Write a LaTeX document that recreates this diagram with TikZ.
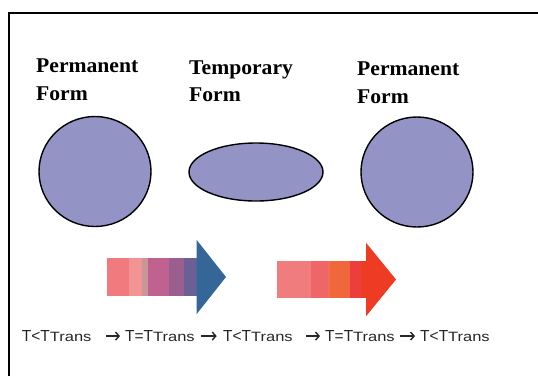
\documentclass[tikz,border=0pt]{standalone}
\usepackage{fontspec}
\setmainfont{Liberation Serif}
\newfontfamily\sansf{Liberation Sans}
\usetikzlibrary{arrows.meta}
\newcommand{\wx}[1]{\scalebox{1.03}[1]{#1}}
\newcommand{\stt}[1]{\scalebox{0.97}[1]{\fontsize{16}{18}\selectfont T#1T}\scalebox{1.22}[1]{\fontsize{13.5}{15}\selectfont Trans}}
\definecolor{formfill}{HTML}{9393C5}
\tikzset{
  ttl/.style={anchor=base west, inner sep=0pt, font=\fontsize{21}{26}\selectfont\bfseries},
  form/.style={draw=black, line width=1.4pt, fill=formfill},
  state/.style={anchor=base west, inner sep=0pt, font=\sansf, text=black!85},
  tarrow/.style={draw=black!85, line width=1.4pt, -{Straight Barb[length=3.5pt,width=8pt]}},
  frame/.style={line width=2pt}
}
\begin{document}
\begin{tikzpicture}[x=1pt,y=-1pt]
\useasboundingbox (0,0) rectangle (538,376);
% frame
\draw[frame] (8.5,376) -- (8.5,13) -- (539,13);
% titles
\node[ttl] (t1a) at (36,72.5) {\wx{Permanent}};
\node[ttl] (t1b) at (36,100) {\wx{Form}};
\node[ttl] (t2a) at (189,74) {\wx{Temporary}};
\node[ttl] (t2b) at (189,101.5) {\wx{Form}};
\node[ttl] (t3a) at (357,75.5) {\wx{Permanent}};
\node[ttl] (t3b) at (357,103) {\wx{Form}};
% forms
\draw[form] (95,171.5) ellipse [x radius=56, y radius=55];
\draw[form] (256,172) ellipse [x radius=67, y radius=29];
\draw[form] (417,172) ellipse [x radius=56, y radius=55];
% left block arrow
\fill[fill={rgb,255:red,240;green,122;blue,126}] (107.3,258.3) rectangle (129.3,295.7);
\fill[fill={rgb,255:red,243;green,148;blue,148}] (129.3,258.3) rectangle (141.7,295.7);
\fill[fill={rgb,255:red,201;green,150;blue,151}] (141.7,258.3) rectangle (148,295.7);
\fill[fill={rgb,255:red,192;green,98;blue,143}] (148,258.3) rectangle (168.7,295.7);
\fill[fill={rgb,255:red,154;green,95;blue,142}] (168.7,258.3) rectangle (184.3,295.7);
\fill[fill={rgb,255:red,106;green,96;blue,150}] (184.3,258.3) rectangle (197,295.7);
\fill[fill={rgb,255:red,52;green,103;blue,151}] (196.7,240) -- (226,277) -- (196.7,314) -- cycle;
% right block arrow
\fill[fill={rgb,255:red,240;green,124;blue,126}] (277.3,260.7) rectangle (311,298.3);
\fill[fill={rgb,255:red,239;green,102;blue,104}] (311,260.7) rectangle (327.7,298.3);
\fill[fill={rgb,255:red,240;green,112;blue,80}] (327.7,260.7) rectangle (330,298.3);
\fill[fill={rgb,255:red,241;green,103;blue,60}] (330,260.7) rectangle (350,298.3);
\fill[fill={rgb,255:red,236;green,63;blue,60}] (350,260.7) rectangle (361,298.3);
\fill[fill={rgb,255:red,238;green,59;blue,36}] (361,260.7) rectangle (366.3,298.3);
\fill[fill={rgb,255:red,238;green,59;blue,36}] (366,242.7) -- (396,279.5) -- (366,316.3) -- cycle;
% states
\node[state] (s1) at (21.7,341.5) {\stt{<}};
\node[state] (s2) at (125,341.5) {\stt{=}};
\node[state] (s3) at (223,341.5) {\stt{<}};
\node[state] (s4) at (325,341.5) {\stt{=}};
\node[state] (s5) at (420,341.5) {\stt{<}};
\draw[tarrow, shorten <=14.4pt, shorten >=5pt] (s1.east) -- (s2.west);
\draw[tarrow, shorten <=6.3pt, shorten >=6.3pt] (s2.east) -- (s3.west);
\draw[tarrow, shorten <=13.4pt, shorten >=5pt] (s3.east) -- (s4.west);
\draw[tarrow, shorten <=5pt, shorten >=5pt] (s4.east) -- (s5.west);
\end{tikzpicture}
\end{document}
